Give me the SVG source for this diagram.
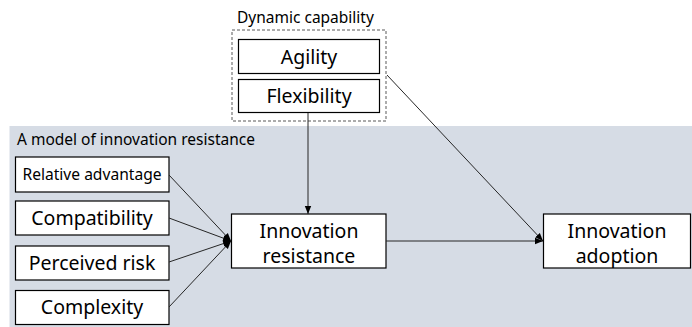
<svg xmlns="http://www.w3.org/2000/svg" width="692" height="327" viewBox="0 0 692 327">
  <style>
    .box { fill: #ffffff; stroke: #000000; stroke-width: 1.2; }
    .lbl { font-family: "Noto Sans", "Open Sans", sans-serif; fill: #000000; text-anchor: middle; }
    .big { font-size: 19.5px; }
    .small { font-size: 15.6px; }
    .cap { font-family: "Noto Sans", "Open Sans", sans-serif; font-size: 15.5px; fill: #000000; }
    .edge { stroke: #262626; stroke-width: 1; fill: none; marker-end: url(#arrow); }
  </style>
  <defs>
    <marker id="arrow" viewBox="0 0 10 10" refX="10" refY="5" markerWidth="8" markerHeight="8" markerUnits="userSpaceOnUse" orient="auto">
      <path d="M0,1 L10,5 L0,9 Z" fill="#000000"/>
    </marker>
  </defs>

  <rect width="692" height="327" fill="#ffffff"/>

  <!-- innovation resistance model panel -->
  <g id="panel">
    <rect x="9.5" y="126" width="683" height="201" fill="#D6DCE5"/>
    <text class="cap" x="17" y="145">A model of innovation resistance</text>
  </g>

  <!-- dynamic capability group -->
  <g id="dynamic-capability">
    <text class="cap" x="237" y="23">Dynamic capability</text>
    <rect x="232" y="30" width="154" height="91" fill="none" stroke="#595959" stroke-width="1" stroke-dasharray="3,2"/>
  </g>
  <g id="agility">
    <rect class="box" x="238.5" y="39.5" width="141" height="34"/>
    <text class="lbl big" x="309" y="64">Agility</text>
  </g>
  <g id="flexibility">
    <rect class="box" x="238.5" y="79.5" width="141" height="33"/>
    <text class="lbl big" x="309" y="103">Flexibility</text>
  </g>

  <!-- antecedents -->
  <g id="relative-advantage">
    <rect class="box" x="15.5" y="157" width="153.5" height="35"/>
    <text class="lbl small" x="92" y="180">Relative advantage</text>
  </g>
  <g id="compatibility">
    <rect class="box" x="15.5" y="201" width="153.5" height="34"/>
    <text class="lbl big" x="92" y="225">Compatibility</text>
  </g>
  <g id="perceived-risk">
    <rect class="box" x="15.5" y="246" width="153.5" height="34"/>
    <text class="lbl big" x="92" y="270">Perceived risk</text>
  </g>
  <g id="complexity">
    <rect class="box" x="15.5" y="290.5" width="153.5" height="34"/>
    <text class="lbl big" x="92" y="314">Complexity</text>
  </g>

  <!-- outcomes -->
  <g id="innovation-resistance">
    <rect class="box" x="231.5" y="214" width="154.5" height="54"/>
    <text class="lbl big" x="309" y="237.5">Innovation</text>
    <text class="lbl big" x="309" y="262.5">resistance</text>
  </g>
  <g id="innovation-adoption">
    <rect class="box" x="543.5" y="214" width="147" height="54"/>
    <text class="lbl big" x="617" y="237.5">Innovation</text>
    <text class="lbl big" x="617" y="262.5">adoption</text>
  </g>

  <!-- connectors -->
  <g id="connectors">
    <line class="edge" x1="169" y1="175" x2="231" y2="241"/>
    <line class="edge" x1="169" y1="218" x2="231" y2="241"/>
    <line class="edge" x1="169" y1="262" x2="231" y2="241"/>
    <line class="edge" x1="169" y1="307" x2="231" y2="241"/>
    <line class="edge" x1="308" y1="113" x2="308" y2="214"/>
    <line class="edge" x1="386" y1="241" x2="543" y2="241"/>
    <line class="edge" x1="387" y1="75" x2="543" y2="241"/>
  </g>
</svg>
